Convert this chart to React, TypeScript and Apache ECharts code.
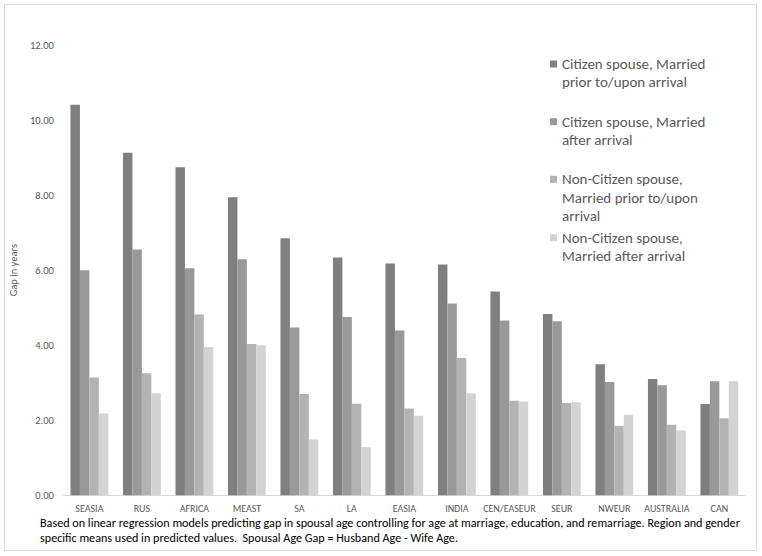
import React, { useEffect, useRef } from "react";
import * as echarts from "echarts";

const categories = ["SEASIA", "RUS", "AFRICA", "MEAST", "SA", "LA", "EASIA", "INDIA", "CEN/EASEUR", "SEUR", "NWEUR", "AUSTRALIA", "CAN"];
const seriesNames = [
  "Citizen spouse, Married prior to/upon arrival",
  "Citizen spouse, Married after arrival",
  "Non-Citizen spouse, Married prior to/upon arrival",
  "Non-Citizen spouse, Married after arrival",
];
const legendLines = [
  ["Citizen spouse, Married", "prior to/upon arrival"],
  ["Citizen spouse, Married", "after arrival"],
  ["Non-Citizen spouse,", "Married prior to/upon", "arrival"],
  ["Non-Citizen spouse,", "Married after arrival"],
];
const citizenPrior = [10.41, 9.13, 8.74, 7.94, 6.85, 6.34, 6.18, 6.15, 5.43, 4.83, 3.49, 3.10, 2.43];
const citizenAfter = [6.0, 6.55, 6.05, 6.29, 4.47, 4.75, 4.39, 5.11, 4.66, 4.64, 3.02, 2.93, 3.04];
const nonCitizenPrior = [3.14, 3.25, 4.82, 4.03, 2.70, 2.44, 2.31, 3.66, 2.52, 2.46, 1.85, 1.88, 2.05];
const nonCitizenAfter = [2.18, 2.72, 3.95, 4.00, 1.49, 1.28, 2.12, 2.72, 2.50, 2.48, 2.15, 1.73, 3.04];
const seriesValues = [citizenPrior, citizenAfter, nonCitizenPrior, nonCitizenAfter];
const yTicks = [0, 2, 4, 6, 8, 10, 12];
const footnote = [
  "Based on linear regression models predicting gap in spousal age controlling for age at marriage, education, and remarriage. Region and gender",
  "specific means used in predicted values.  Spousal Age Gap = Husband Age - Wife Age.",
];

const colors = ["#7f7f7f", "#999999", "#b3b3b3", "#d3d3d3"];
const FONT = "Carlito, Calibri, Lato, 'Open Sans', sans-serif";
const LH = 18.4;
const legendFirstLineY = [64, 121.7, 179.3, 237.7];

export default function App() {
  const ref = useRef<HTMLDivElement>(null);
  useEffect(() => {
    if (!ref.current) return;
    const chart = echarts.init(ref.current, undefined, { renderer: "svg" });
    const legends = seriesNames.map((name, i) => {
      const n = legendLines[i].length;
      return {
        show: true,
        data: [name],
        orient: "vertical",
        left: 550,
        top: legendFirstLineY[i] - ((2 * n - 1) * LH) / 2,
        padding: 0,
        itemWidth: 7,
        itemHeight: 7,
        icon: "rect",
        selectedMode: false,
        formatter: () => "\n".repeat(n - 1) + legendLines[i].join("\n"),
        textStyle: {
          fontFamily: FONT,
          fontSize: 15,
          color: "#595959",
          lineHeight: LH,
        },
      };
    });
    chart.setOption({
      animation: false,
      backgroundColor: "#ffffff",
      color: colors,
      legend: legends,
      grid: { left: 54.3, right: 16.4, top: 45, bottom: 60.7 },
      xAxis: {
        type: "category",
        data: categories,
        axisLine: { show: true, lineStyle: { color: "#d9d9d9", width: 1 } },
        axisTick: { show: false },
        axisLabel: { fontFamily: FONT, fontSize: 10, color: "#595959", margin: 8, interval: 0 },
      },
      yAxis: {
        type: "value",
        min: yTicks[0],
        max: yTicks[yTicks.length - 1],
        interval: 2,
        name: "Gap in years",
        nameLocation: "middle",
        nameRotate: 90,
        nameGap: 39,
        nameTextStyle: { fontFamily: FONT, fontSize: 10.5, color: "#595959" },
        axisLine: { show: false },
        axisTick: { show: false },
        splitLine: { show: false },
        axisLabel: {
          fontFamily: FONT,
          fontSize: 10.5,
          color: "#595959",
          margin: 9.3,
          formatter: (v: number) => v.toFixed(2),
        },
      },
      series: seriesNames.map((name, i) => ({
        name,
        type: "bar",
        data: seriesValues[i],
        barGap: "0%",
        barCategoryGap: "28%",
        itemStyle: { color: colors[i] },
      })),
      graphic: [
        {
          type: "rect",
          shape: { x: 4.5, y: 4.5, width: 752, height: 546 },
          style: { fill: "none", stroke: "#d9d9d9", lineWidth: 1 },
          silent: true,
        },
        {
          type: "text",
          x: 40,
          y: 515,
          style: {
            text: footnote.join("\n"),
            fontFamily: FONT,
            fontSize: 12.15,
            lineHeight: 15,
            fill: "#000000",
          },
        },
      ],
    });
    return () => chart.dispose();
  }, []);
  return <div ref={ref} style={{ position: "fixed", left: 0, top: 0, width: 762, height: 556 }} />;
}
